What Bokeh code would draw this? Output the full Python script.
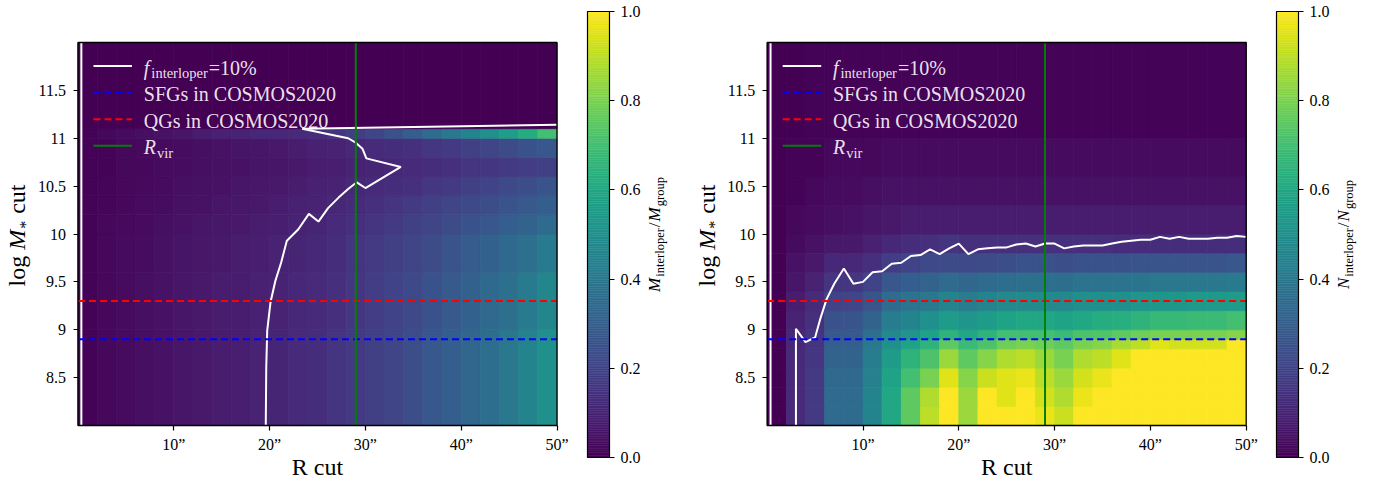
import math
from bokeh.plotting import figure
from bokeh.models import ColumnDataSource, LinearColorMapper, FixedTicker, Label, Range1d, LinearAxis
from bokeh.palettes import Viridis256
from bokeh.transform import transform
from bokeh.embed import file_html
from bokeh.resources import INLINE

FONT = "Liberation Serif"

# ---------------- data ----------------
r_cut_edges = [0, 2, 4, 6, 8, 10, 12, 14, 16, 18, 20, 22, 24, 26, 28, 30,
               32, 34, 36, 38, 40, 42, 44, 46, 48, 50]

x_ticks = [10, 20, 30, 40, 50]
x_tick_labels = ["10\u201d", "20\u201d", "30\u201d", "40\u201d", "50\u201d"]
y_ticks = [8.5, 9, 9.5, 10, 10.5, 11, 11.5]
y_tick_labels = ["8.5", "9", "9.5", "10", "10.5", "11", "11.5"]
cbar_ticks = [0.0, 0.2, 0.4, 0.6, 0.8, 1.0]
cbar_tick_labels = ["0.0", "0.2", "0.4", "0.6", "0.8", "1.0"]

r_vir = 29.0
sfg_mass_limit = 8.9
qg_mass_limit = 9.3

# left panel: M_interloper / M_group (percent), rows bottom -> top
mass_edges_left = [8.0, 9.0, 9.6, 10.0, 10.2, 10.4, 10.6, 10.8, 11.0, 11.1, 12.0]
mass_frac = [
    [1, 2, 3, 4, 5, 6, 7, 8, 8.5, 9.5, 10.5, 12, 13, 15, 17, 19, 21, 24, 27, 30, 33, 36, 40, 45, 50],
    [1, 2, 3, 4, 5, 6, 7, 7.5, 8, 9, 10, 11, 12, 14, 16, 18, 20, 22, 25, 28, 31, 34, 37, 41, 46],
    [1, 2, 3, 3.5, 4.5, 5.5, 6.5, 7, 7.5, 8.5, 9.5, 10.5, 11.5, 13, 15, 17, 19, 21, 23, 26, 29, 31, 34, 37, 41],
    [1, 2, 2.5, 3, 4, 5, 6, 6.5, 7, 8, 8.5, 9.5, 10.5, 12, 13.5, 15, 17, 19, 21, 23, 25, 27, 30, 32, 35],
    [1, 1.5, 2, 3, 3.5, 4.5, 5, 6, 6.5, 7, 8, 9, 10, 11, 12, 14, 15, 17, 19, 21, 22, 24, 26, 28, 30],
    [1, 1.5, 2, 2.5, 3, 4, 4.5, 5, 6, 6.5, 7, 8, 9, 10, 11, 12, 13, 14, 16, 17, 19, 20, 22, 24, 26],
    [1, 1, 2, 2, 3, 3.5, 4, 4.5, 5, 5.5, 6, 7, 7.5, 8.5, 9.5, 10.5, 11, 12, 13, 14, 15, 16, 17, 18, 19],
    [1, 1, 2, 2.5, 3, 3.5, 4, 5, 5.5, 6, 7, 8, 9, 10, 11, 12, 13, 14, 16, 17, 19, 21, 23, 25, 27],
    [1, 2, 3, 4, 5, 6, 8, 9, 10, 11, 11, 12, 13, 15, 18, 21, 25, 30, 35, 40, 45, 50, 56, 62, 70],
    [0, 0, 0, 0, 0, 0, 0, 0, 0, 0, 0, 0, 0, 0, 0, 0, 0, 0, 0, 0, 0, 0, 0, 0, 0],
]

# right panel: N_interloper / N_group (percent), rows bottom -> top
mass_edges_right = [8.0, 8.2, 8.4, 8.6, 8.8, 8.9, 9.0, 9.2, 9.4, 9.6, 9.8, 10.0, 10.3, 10.6, 11.0, 12.0]
number_frac = [
    [0, 12, 17, 35, 35, 45, 60, 75, 90, 100, 85, 100, 100, 100, 97, 92, 100, 100, 100, 100, 100, 100, 100, 100, 100],
    [0, 12, 17, 35, 35, 45, 60, 75, 88, 100, 85, 100, 95, 100, 93, 88, 97, 100, 100, 100, 100, 100, 100, 100, 100],
    [0, 12, 17, 34, 34, 44, 58, 70, 80, 95, 82, 92, 95, 97, 90, 85, 93, 97, 100, 100, 100, 100, 100, 100, 100],
    [0, 12, 16, 32, 32, 42, 55, 65, 72, 85, 75, 82, 88, 90, 85, 80, 88, 90, 95, 100, 100, 100, 100, 100, 100],
    [0, 11, 15, 30, 30, 40, 50, 58, 65, 75, 68, 72, 78, 80, 78, 75, 80, 82, 87, 90, 95, 93, 93, 93, 100],
    [0, 11, 15, 28, 28, 37, 47, 52, 58, 65, 60, 65, 70, 70, 70, 68, 72, 73, 75, 78, 80, 80, 80, 80, 82],
    [0, 10, 14, 25, 26, 32, 42, 45, 50, 55, 52, 55, 58, 60, 60, 58, 60, 62, 63, 65, 67, 67, 68, 68, 70],
    [0, 8, 12, 20, 21, 26, 35, 38, 40, 45, 42, 45, 47, 48, 48, 47, 50, 50, 50, 52, 53, 53, 54, 54, 55],
    [0, 6, 10, 15, 16, 20, 27, 30, 32, 35, 33, 35, 36, 37, 37, 36, 38, 38, 38, 39, 40, 40, 40, 40, 41],
    [0, 5, 7, 11, 11, 14, 18, 20, 22, 23, 22, 23, 24, 25, 25, 24, 25, 25, 25, 26, 26, 26, 26, 26, 27],
    [0, 3, 5, 7, 7, 9, 11, 13, 14, 15, 14, 14, 14, 14, 14, 14, 14, 14, 13, 13, 13, 13, 13, 13, 13],
    [0, 2, 3, 4, 5, 6, 7, 8, 8, 8, 8, 8, 8, 8, 8, 8, 8, 8, 8, 8, 8, 8, 8, 8, 8],
    [0, 1, 2, 3, 3, 4, 5, 5, 5, 5, 5, 5, 5, 5, 5, 5, 5, 5, 5, 5, 5, 5, 5, 5, 5],
    [0, 1, 1, 2, 2, 2, 3, 3, 3, 3, 3, 3, 3, 3, 3, 3, 3, 3, 3, 3, 3, 3, 3, 3, 3],
    [0, 0, 1, 1, 1, 1, 1, 1, 1, 1, 1, 1, 1, 1, 1, 1, 1, 1, 1, 1, 1, 1, 1, 1, 1],
]

# f_interloper = 10% contours
contour_left_r = [50.0, 23.4, 28.2, 28.9, 29.7, 30.1, 33.7, 30.0, 29.1, 28.2, 27.2, 26.1, 25.1, 24.1,
                  23.0, 21.8, 21.2, 20.6, 20.1, 19.75, 19.65, 19.6]
contour_left_m = [11.14, 11.10, 11.00, 10.96, 10.89, 10.79, 10.70, 10.48, 10.54, 10.47, 10.38, 10.27, 10.13, 10.21,
                  10.05, 9.93, 9.70, 9.51, 9.29, 8.99, 8.60, 8.0]
contour_right_r = [3.0, 3.0, 4.0, 5.0, 5.5, 6.2, 7.0, 8.0, 9.0, 10.0, 11.0, 12.0, 13.0, 14.0, 15.0, 16.0,
                   17.0, 18.0, 19.0, 20.0, 21.0, 22.0, 23.0, 24.0, 25.0, 26.0, 27.0, 28.0, 29.0, 30.0,
                   31.0, 32.0, 33.0, 34.0, 35.0, 36.0, 37.0, 38.0, 39.0, 40.0, 41.0, 42.0, 43.0, 44.0,
                   45.0, 46.0, 47.0, 48.0, 49.0, 50.0]
contour_right_m = [8.0, 9.01, 8.87, 8.92, 9.10, 9.32, 9.48, 9.64, 9.48, 9.50, 9.60, 9.61, 9.69, 9.70, 9.77, 9.78,
                   9.84, 9.79, 9.85, 9.90, 9.79, 9.84, 9.85, 9.86, 9.86, 9.89, 9.90, 9.87, 9.90, 9.90,
                   9.85, 9.87, 9.88, 9.88, 9.88, 9.90, 9.92, 9.93, 9.94, 9.94, 9.97, 9.95, 9.97, 9.95,
                   9.95, 9.95, 9.96, 9.96, 9.98, 9.97]
edge_contour_r = [0.35, 0.35]
edge_contour_m = [8.0, 12.0]

# ---------------- geometry (page pixels) ----------------
PW, PH = 1379, 487
BOX_W, BOX_H, BOX_TOP = 479.0, 383.0, 42.0
BOX_LEFTS = [77.5, 766.7]
CB_LEFTS = [587.0, 1276.0]
CB_W, CB_TOP, CB_H = 22.0, 11.0, 446.0
X0, X1, Y0, Y1 = 0.0, 50.0, 8.0, 12.0
PPX = BOX_W / (X1 - X0)
PPY = BOX_H / (Y1 - Y0)
BASE_FIX = 0.34  # text anchor sits this many em above the baseline


def xrange_for(d0, d1, px0, px1):
    s = (px1 - px0) / (d1 - d0)
    return Range1d(d0 - px0 / s, d0 + (PW - px0) / s)


def yrange_for(d_bot, d_top, py_bot, py_top):
    s = (py_bot - py_top) / (d_top - d_bot)
    return Range1d(d_bot - (PH - py_bot) / s, d_top + py_top / s)


# ---------------- text helpers ----------------
W = {' ': 250, 'a': 444, 'b': 500, 'c': 444, 'd': 500, 'e': 444, 'f': 333, 'g': 500, 'h': 500,
     'i': 278, 'j': 278, 'k': 500, 'l': 278, 'm': 778, 'n': 500, 'o': 500, 'p': 500, 'q': 500,
     'r': 333, 's': 389, 't': 278, 'u': 500, 'v': 500, 'w': 722, 'x': 500, 'y': 500, 'z': 444,
     '=': 564, '%': 833, '/': 278, '*': 500, 'S': 556, 'F': 556, 'G': 722, 'Q': 722, 'C': 667,
     'O': 722, 'M': 889, 'N': 722, 'R': 667}
WI = {'f': 278, 'M': 833, 'N': 667, 'R': 611}


def text_w(s, size, italic):
    tot = 0
    for ch in s:
        if italic and ch in WI:
            tot += WI[ch]
        elif ch.isdigit():
            tot += 500
        else:
            tot += W.get(ch, 500)
    return tot / 1000.0 * size


p = figure(width=PW, height=PH, x_range=Range1d(0, 1), y_range=Range1d(0, 1),
           min_border=0, x_axis_location=None, y_axis_location=None,
           output_backend="svg", toolbar_location=None, outline_line_color=None)
p.grid.visible = False


def label(x, y, text, size, italic, xr, yr, color="black", alpha=1.0, angle=0.0, align="left"):
    p.add_layout(Label(x=x, y=y, text=text, text_font=FONT, text_font_size=f"{size}px",
                       text_font_style="italic" if italic else "normal", text_color=color,
                       text_alpha=alpha, text_baseline="alphabetic", text_align=align,
                       angle=angle, x_range_name=xr, y_range_name=yr))


def compose_h(x0, y0, pieces, ppx, ppy, xr, yr, color, alpha):
    x = x0
    for text, size, italic, shift, pad in pieces:
        label(x, y0 + (BASE_FIX * size - shift) / ppy, text, size, italic, xr, yr, color, alpha)
        x += (text_w(text, size, italic) + pad) / ppx


def compose_v(xb, yc, pieces, ppx, ppy, xr, yr, color="black"):
    total = sum(text_w(t, s, it) + pad for t, s, it, sh, pad in pieces)
    y = yc - total / 2.0 / ppy
    for text, size, italic, shift, pad in pieces:
        label(xb + (shift - BASE_FIX * size) / ppx, y, text, size, italic, xr, yr, color, 1.0,
              angle=math.pi / 2)
        y += (text_w(text, size, italic) + pad) / ppy


def style_axis(ax):
    ax.axis_line_color = None
    ax.major_tick_line_color = "black"
    ax.major_tick_line_width = 1.2
    ax.major_tick_out = 5
    ax.major_tick_in = 0
    ax.minor_tick_line_color = None
    ax.major_label_text_font = FONT
    ax.major_label_text_font_size = "16px"
    ax.major_label_text_color = "black"


mapper = LinearColorMapper(palette=Viridis256, low=0, high=1)

p.extra_y_ranges = {"yM": yrange_for(Y0, Y1, BOX_TOP + BOX_H, BOX_TOP),
                    "cby": yrange_for(0.0, 1.0, CB_TOP + CB_H, CB_TOP)}
xr_dict = {}
for k in range(2):
    xr_dict[f"x{k}"] = xrange_for(X0, X1, BOX_LEFTS[k], BOX_LEFTS[k] + BOX_W)
    xr_dict[f"cbx{k}"] = xrange_for(0.0, 1.0, CB_LEFTS[k], CB_LEFTS[k] + CB_W)
p.extra_x_ranges = xr_dict

panels = [
    (mass_edges_left, mass_frac, contour_left_r, contour_left_m, "M"),
    (mass_edges_right, number_frac, contour_right_r, contour_right_m, "N"),
]

for k, (mass_edges, frac, c_r, c_m, sym) in enumerate(panels):
    xr, yr = f"x{k}", "yM"
    rn = dict(x_range_name=xr, y_range_name=yr)

    left, right, bottom, top, val = [], [], [], [], []
    for i, vals in enumerate(frac):
        for j, v in enumerate(vals):
            left.append(r_cut_edges[j]); right.append(r_cut_edges[j + 1])
            bottom.append(mass_edges[i]); top.append(mass_edges[i + 1]); val.append(v / 100.0)
    src = ColumnDataSource(dict(left=left, right=right, bottom=bottom, top=top, val=val))
    p.quad(left="left", right="right", bottom="bottom", top="top", source=src,
           fill_color=transform("val", mapper), line_color=transform("val", mapper),
           line_width=0.8, **rn)

    p.line(c_r, c_m, line_color="white", line_width=2, **rn)
    p.line(edge_contour_r, edge_contour_m, line_color="white", line_width=2, **rn)

    p.segment(x0=[X0], x1=[X1], y0=[sfg_mass_limit], y1=[sfg_mass_limit], line_color="blue",
              line_width=2, line_dash="7 4", **rn)
    p.segment(x0=[X0], x1=[X1], y0=[qg_mass_limit], y1=[qg_mass_limit], line_color="red",
              line_width=2, line_dash="7 4", **rn)
    p.segment(x0=[r_vir], x1=[r_vir], y0=[Y0], y1=[Y1], line_color="green", line_width=2, **rn)

    # axes box
    p.quad(left=[X0], right=[X1], bottom=[Y0], top=[Y1], fill_color=None, line_color="black",
           line_width=1.3, **rn)

    xax = LinearAxis(x_range_name=xr, y_range_name=yr, fixed_location=Y0,
                     ticker=FixedTicker(ticks=x_ticks),
                     major_label_overrides={t: l for t, l in zip(x_ticks, x_tick_labels)})
    style_axis(xax)
    xax.major_label_standoff = 5
    p.add_layout(xax, "below")
    yax = LinearAxis(x_range_name=xr, y_range_name=yr, fixed_location=X0,
                     ticker=FixedTicker(ticks=y_ticks),
                     major_label_overrides={t: l for t, l in zip(y_ticks, y_tick_labels)})
    style_axis(yax)
    yax.major_label_standoff = 7
    p.add_layout(yax, "left")

    # x label
    label((X0 + X1) / 2, Y0 - (49.5 - BASE_FIX * 24) / PPY, "R cut", 24, False, xr, yr, align="center")
    # y label: log M_* cut (spaces given as padding so SVG does not drop them)
    compose_v(X0 - 52.5 / PPX, Y0 + (425 - 235) / PPY,
              [("log", 24, False, 0, 6), ("M", 24, True, 0, 1), ("*", 16, False, 5, 7),
               ("cut", 24, False, 0, 0)], PPX, PPY, xr, yr)

    # legend
    styles = [("white", None), ("blue", "7 4"), ("red", "7 4"), ("green", None)]
    texts = [
        [("f", 20, True, 0, 2), ("interloper", 14.5, False, 4, 1), ("=10%", 20, False, 0, 0)],
        [("SFGs in COSMOS2020", 20, False, 0, 0)],
        [("QGs in COSMOS2020", 20, False, 0, 0)],
        [("R", 20, True, 0, 1), ("vir", 14.5, False, 4, 0)],
    ]
    lx0 = X0 + 15.5 / PPX
    lx1 = X0 + 54.0 / PPX
    tx = X0 + 65.8 / PPX
    for n, ((col, dash), pieces) in enumerate(zip(styles, texts)):
        yl = Y1 - (23.5 + 26.6 * n) / PPY
        kw = dict(line_color=col, line_width=2)
        if dash:
            kw["line_dash"] = dash
        p.line([lx0, lx1], [yl, yl], **kw, **rn)
        compose_h(tx, yl - 8.3 / PPY, pieces, PPX, PPY, xr, yr, "white", 0.9)

    # colorbar
    cxr, cyr = f"cbx{k}", "cby"
    cn = dict(x_range_name=cxr, y_range_name=cyr)
    nlev = len(Viridis256)
    p.quad(left=[0.0] * nlev, right=[1.0] * nlev, bottom=[i / nlev for i in range(nlev)],
           top=[(i + 1) / nlev for i in range(nlev)], fill_color=list(Viridis256),
           line_color=list(Viridis256), line_width=0.5, **cn)
    p.quad(left=[0.0], right=[1.0], bottom=[0.0], top=[1.0], fill_color=None, line_color="black",
           line_width=1.2, **cn)
    cax = LinearAxis(x_range_name=cxr, y_range_name=cyr, fixed_location=1.0,
                     ticker=FixedTicker(ticks=cbar_ticks),
                     major_label_overrides={t: l for t, l in zip(cbar_ticks, cbar_tick_labels)})
    style_axis(cax)
    cax.major_label_standoff = 6
    p.add_layout(cax, "right")
    compose_v(1.0 + 51 / CB_W, 0.5,
              [(sym, 17, True, 0, 1), ("interloper", 12.5, False, 3.5, 1), ("/", 17, False, 0, 1),
               (sym, 17, True, 0, 1), ("group", 12.5, False, 3.5, 0)], CB_W, CB_H, cxr, cyr)

open("out.html", "w").write(file_html(p, INLINE))
